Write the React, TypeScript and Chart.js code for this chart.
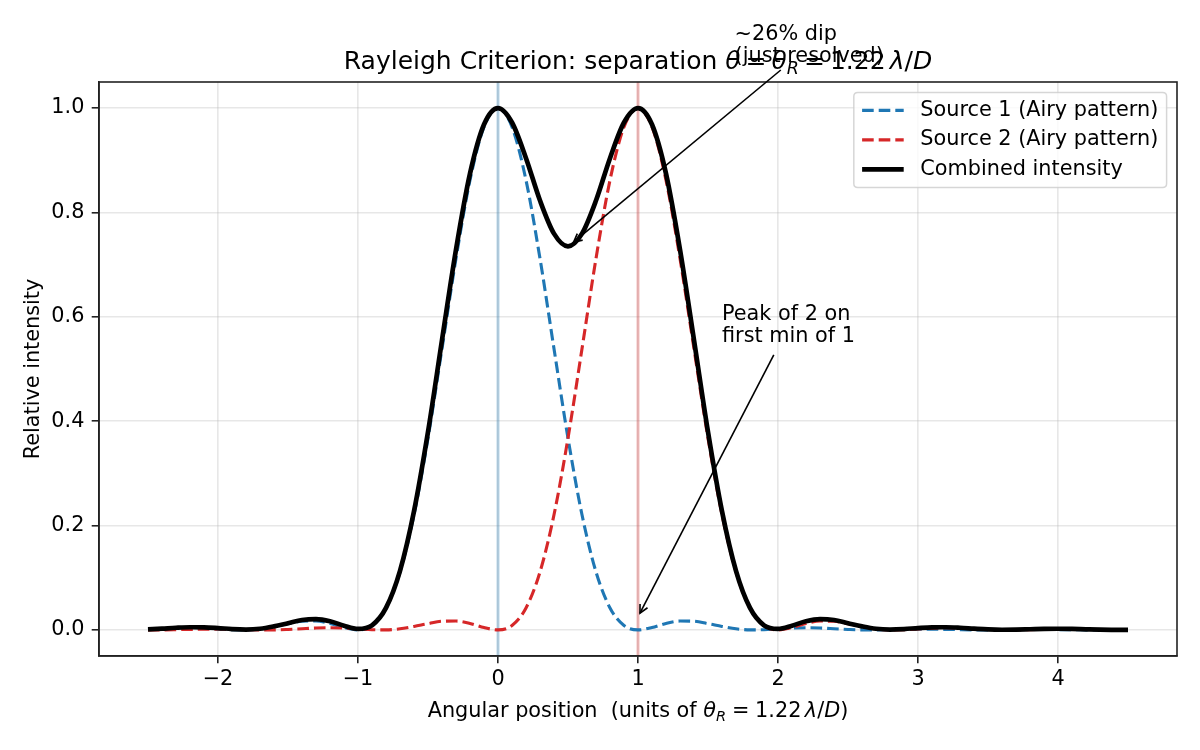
import React, { useEffect, useRef } from "react";
import { Chart, registerables } from "chart.js";

Chart.register(...registerables);

// ---------------- data ----------------
const xPositions = [
  -2.5, -2.4, -2.3, -2.2, -2.1, -2.0, -1.9, -1.8, -1.7, -1.6, -1.5, -1.4, -1.3, -1.2, -1.1, -1.0,
  -0.9, -0.8, -0.7, -0.6, -0.5, -0.4, -0.3, -0.2, -0.1, 0.0, 0.1, 0.2, 0.3, 0.4, 0.5, 0.6, 0.7,
  0.8, 0.9, 1.0, 1.1, 1.2, 1.3, 1.4, 1.5, 1.6, 1.7, 1.8, 1.9, 2.0, 2.1, 2.2, 2.3, 2.4, 2.5, 2.6,
  2.7, 2.8, 2.9, 3.0, 3.1, 3.2, 3.3, 3.4, 3.5, 3.6, 3.7, 3.8, 3.9, 4.0, 4.1, 4.2, 4.3, 4.4, 4.5,
];

const source1 = [
  0.0009, 0.0023, 0.0036, 0.0041, 0.0035, 0.002, 0.0004, 0.0001, 0.0021, 0.0067, 0.0119, 0.0166,
  0.017, 0.0125, 0.0046, 0.0, 0.0085, 0.0421, 0.1111, 0.2206, 0.3675, 0.5388, 0.7117, 0.8619,
  0.9639, 1.0, 0.9639, 0.8619, 0.7117, 0.5388, 0.3675, 0.2206, 0.1111, 0.0421, 0.0085, 0.0,
  0.0046, 0.0125, 0.017, 0.0166, 0.0119, 0.0067, 0.0021, 0.0001, 0.0004, 0.002, 0.0035, 0.0041,
  0.0036, 0.0023, 0.0009, 0.0001, 0.0001, 0.0006, 0.0012, 0.0016, 0.0015, 0.001, 0.0005, 0.0001,
  0.0, 0.0002, 0.0005, 0.0007, 0.0008, 0.0006, 0.0003, 0.0001, 0.0, 0.0001, 0.0002,
];

const source2 = [
  0.0, 0.0001, 0.0005, 0.001, 0.0015, 0.0016, 0.0012, 0.0006, 0.0001, 0.0001, 0.0009, 0.0023,
  0.0036, 0.0041, 0.0035, 0.002, 0.0004, 0.0001, 0.0021, 0.0067, 0.0119, 0.0166, 0.017, 0.0125,
  0.0046, 0.0, 0.0085, 0.0421, 0.1111, 0.2206, 0.3675, 0.5388, 0.7117, 0.8619, 0.9639, 1.0,
  0.9639, 0.8619, 0.7117, 0.5388, 0.3675, 0.2206, 0.1111, 0.0421, 0.0085, 0.0, 0.0046, 0.0125,
  0.017, 0.0166, 0.0119, 0.0067, 0.0021, 0.0001, 0.0004, 0.002, 0.0035, 0.0041, 0.0036, 0.0023,
  0.0009, 0.0001, 0.0001, 0.0006, 0.0012, 0.0016, 0.0015, 0.001, 0.0005, 0.0001, 0.0,
];

const combined = [
  0.0009, 0.0024, 0.0041, 0.0051, 0.005, 0.0036, 0.0016, 0.0007, 0.0022, 0.0068, 0.0128, 0.0189,
  0.0206, 0.0166, 0.0081, 0.002, 0.0089, 0.0422, 0.1132, 0.2273, 0.3794, 0.5554, 0.7287, 0.8744,
  0.9685, 1.0, 0.9724, 0.904, 0.8228, 0.7594, 0.735, 0.7594, 0.8228, 0.904, 0.9724, 1.0, 0.9685,
  0.8744, 0.7287, 0.5554, 0.3794, 0.2273, 0.1132, 0.0422, 0.0089, 0.002, 0.0081, 0.0166, 0.0206,
  0.0189, 0.0128, 0.0068, 0.0022, 0.0007, 0.0016, 0.0036, 0.005, 0.0051, 0.0041, 0.0024, 0.0009,
  0.0003, 0.0006, 0.0013, 0.002, 0.0022, 0.0018, 0.0011, 0.0005, 0.0002, 0.0002,
];

const seriesLabels = ["Source 1 (Airy pattern)", "Source 2 (Airy pattern)", "Combined intensity"];

const xTickValues = [-2, -1, 0, 1, 2, 3, 4];
const xTickLabels = ["\u22122", "\u22121", "0", "1", "2", "3", "4"];
const yTickValues = [0, 0.2, 0.4, 0.6, 0.8, 1.0];
const yTickLabels = ["0.0", "0.2", "0.4", "0.6", "0.8", "1.0"];

const referenceLines = [0, 1];

const annotationDip = ["~26% dip", "(just resolved)"];
const annotationPeak = ["Peak of 2 on", "first min of 1"];

// ---------------- styling ----------------
const FAMILY = "'DejaVu Sans', 'Liberation Sans', sans-serif";
const FS = 20.8;
const TITLE_FS = 25;

type Run = { t?: string; it?: boolean; sub?: boolean; gap?: number };

const titleRuns: Run[] = [
  { t: "Rayleigh Criterion: separation " },
  { t: "\u03b8", it: true },
  { gap: 0.2 },
  { t: "=" },
  { gap: 0.2 },
  { t: "\u03b8", it: true },
  { t: "R", it: true, sub: true },
  { gap: 0.2 },
  { t: "=" },
  { gap: 0.2 },
  { t: "1.22" },
  { gap: 0.167 },
  { t: "\u03bb", it: true },
  { t: "/" },
  { t: "D", it: true },
];

const xLabelRuns: Run[] = [
  { t: "Angular position  (units of " },
  { t: "\u03b8", it: true },
  { t: "R", it: true, sub: true },
  { gap: 0.278 },
  { t: "=" },
  { gap: 0.278 },
  { t: "1.22" },
  { gap: 0.167 },
  { t: "\u03bb", it: true },
  { t: "/" },
  { t: "D", it: true },
  { t: ")" },
];

function runFont(r: Run, size: number) {
  const s = r.sub ? size * 0.7 : size;
  return `${r.it ? "italic " : ""}${s}px ${FAMILY}`;
}

function drawRich(ctx: CanvasRenderingContext2D, runs: Run[], size: number, cx: number, baseline: number) {
  const widths = runs.map((r) => {
    if (r.gap) return r.gap * size;
    ctx.font = runFont(r, size);
    return ctx.measureText(r.t || "").width;
  });
  const total = widths.reduce((a, b) => a + b, 0);
  let x = cx - total / 2;
  ctx.textAlign = "left";
  ctx.textBaseline = "alphabetic";
  runs.forEach((r, i) => {
    if (!r.gap) {
      ctx.font = runFont(r, size);
      ctx.fillText(r.t || "", x, baseline + (r.sub ? 0.2 * size : 0));
    }
    x += widths[i];
  });
}

function drawArrow(ctx: CanvasRenderingContext2D, x0: number, y0: number, x1: number, y1: number) {
  const ang = Math.atan2(y1 - y0, x1 - x0);
  const hl = 8.3;
  const hw = 4.2;
  ctx.save();
  ctx.strokeStyle = "#000";
  ctx.lineWidth = 1.6;
  ctx.lineCap = "butt";
  ctx.beginPath();
  ctx.moveTo(x0, y0);
  ctx.lineTo(x1, y1);
  ctx.stroke();
  const bx = x1 - hl * Math.cos(ang);
  const by = y1 - hl * Math.sin(ang);
  const px = -Math.sin(ang) * hw;
  const py = Math.cos(ang) * hw;
  ctx.beginPath();
  ctx.moveTo(bx + px, by + py);
  ctx.lineTo(x1, y1);
  ctx.lineTo(bx - px, by - py);
  ctx.stroke();
  ctx.restore();
}

const decorPlugin = {
  id: "decor",
  beforeDatasetsDraw(chart: any) {
    const { ctx, chartArea, scales } = chart;
    const colors = ["rgba(31,119,180,0.3)", "rgba(214,39,40,0.3)"];
    ctx.save();
    referenceLines.forEach((v, i) => {
      const px = scales.x.getPixelForValue(v);
      ctx.strokeStyle = colors[i];
      ctx.lineWidth = 3;
      ctx.beginPath();
      ctx.moveTo(px, chartArea.top);
      ctx.lineTo(px, chartArea.bottom);
      ctx.stroke();
    });
    ctx.restore();
  },
  afterDraw(chart: any) {
    const { ctx, chartArea, scales } = chart;
    const { left, right, top, bottom } = chartArea;
    ctx.save();
    // frame
    ctx.strokeStyle = "#222";
    ctx.lineWidth = 1.6;
    ctx.strokeRect(left, top, right - left, bottom - top);

    ctx.fillStyle = "#000";
    // title
    drawRich(ctx, titleRuns, TITLE_FS, (left + right) / 2, top - 13);
    // x label
    drawRich(ctx, xLabelRuns, FS, (left + right) / 2, 717);
    // y label
    ctx.save();
    ctx.translate(38.5, (top + bottom) / 2);
    ctx.rotate(-Math.PI / 2);
    ctx.font = `${FS}px ${FAMILY}`;
    ctx.textAlign = "center";
    ctx.textBaseline = "alphabetic";
    ctx.fillText("Relative intensity", 0, 0);
    ctx.restore();

    // annotations
    const X = (v: number) => scales.x.getPixelForValue(v);
    const Y = (v: number) => scales.y.getPixelForValue(v);
    const lineGap = 22;
    ctx.font = `${FS}px ${FAMILY}`;
    ctx.textAlign = "left";
    ctx.textBaseline = "alphabetic";
    const drawLines = (lines: string[], xv: number, yv: number) => {
      const bx = X(xv);
      const by = Y(yv);
      lines.forEach((l, i) => {
        ctx.fillText(l, bx, by - (lines.length - 1 - i) * lineGap);
      });
    };
    drawLines(annotationDip, 1.69, 1.088);
    drawArrow(ctx, X(2.02), Y(1.073), X(0.54), Y(0.743));
    drawLines(annotationPeak, 1.6, 0.552);
    drawArrow(ctx, X(1.97), Y(0.527), X(1.014), Y(0.032));

    // legend
    ctx.font = `${FS}px ${FAMILY}`;
    const ds = chart.data.datasets;
    const maxW = Math.max(...ds.map((d: any) => ctx.measureText(d.label).width));
    const pad = 8.3;
    const handleLen = 41.6;
    const handlePad = 16.6;
    const boxW = pad + handleLen + handlePad + maxW + pad;
    const rowGap = 29.5;
    const boxH = 18 * 2 + rowGap * (ds.length - 1);
    const bxR = right - 10.4;
    const bx = bxR - boxW;
    const by = top + 10.4;
    const r = 4;
    ctx.beginPath();
    ctx.moveTo(bx + r, by);
    ctx.lineTo(bx + boxW - r, by);
    ctx.quadraticCurveTo(bx + boxW, by, bx + boxW, by + r);
    ctx.lineTo(bx + boxW, by + boxH - r);
    ctx.quadraticCurveTo(bx + boxW, by + boxH, bx + boxW - r, by + boxH);
    ctx.lineTo(bx + r, by + boxH);
    ctx.quadraticCurveTo(bx, by + boxH, bx, by + boxH - r);
    ctx.lineTo(bx, by + r);
    ctx.quadraticCurveTo(bx, by, bx + r, by);
    ctx.closePath();
    ctx.fillStyle = "rgba(255,255,255,0.8)";
    ctx.fill();
    ctx.strokeStyle = "rgba(204,204,204,0.8)";
    ctx.lineWidth = 1.5;
    ctx.stroke();

    ds.forEach((d: any, i: number) => {
      const cy = by + 18 + i * rowGap;
      const hx = bx + pad;
      ctx.save();
      ctx.strokeStyle = d.borderColor;
      ctx.lineWidth = d.borderWidth;
      ctx.setLineDash(d.borderDash || []);
      ctx.beginPath();
      ctx.moveTo(hx, cy);
      ctx.lineTo(hx + handleLen, cy);
      ctx.stroke();
      ctx.restore();
      ctx.fillStyle = "#000";
      ctx.font = `${FS}px ${FAMILY}`;
      ctx.textAlign = "left";
      ctx.textBaseline = "middle";
      ctx.fillText(d.label, hx + handleLen + handlePad, cy);
    });
    ctx.restore();
  },
};

export default function App() {
  const ref = useRef<HTMLCanvasElement>(null);
  useEffect(() => {
    const canvas = ref.current!;
    const mk = (vals: number[]) => xPositions.map((x, i) => ({ x, y: vals[i] }));
    const gridOpts = {
      color: "rgba(176,176,176,0.3)",
      lineWidth: 1.6,
      drawTicks: true,
      tickLength: 7.3,
      tickColor: "#222",
      tickWidth: 1.6,
    };
    const chart = new Chart(canvas, {
      type: "line",
      data: {
        datasets: [
          {
            label: seriesLabels[0],
            data: mk(source1),
            borderColor: "#1f77b4",
            borderWidth: 3.1,
            borderDash: [11.6, 5],
            pointRadius: 0,
            fill: false,
            order: 3,
            cubicInterpolationMode: "monotone",
          },
          {
            label: seriesLabels[1],
            data: mk(source2),
            borderColor: "#d62728",
            borderWidth: 3.1,
            borderDash: [11.6, 5],
            pointRadius: 0,
            fill: false,
            order: 2,
            cubicInterpolationMode: "monotone",
          },
          {
            label: seriesLabels[2],
            data: mk(combined),
            borderColor: "#000000",
            borderWidth: 4.7,
            pointRadius: 0,
            fill: false,
            order: 1,
            cubicInterpolationMode: "monotone",
          },
        ],
      },
      options: {
        responsive: false,
        animation: false,
        devicePixelRatio: 1,
        layout: { padding: { left: 0, top: 82, right: 23, bottom: 0 } },
        plugins: {
          legend: { display: false },
          title: { display: false },
          tooltip: { enabled: false },
        },
        scales: {
          x: {
            type: "linear",
            min: -2.85,
            max: 4.85,
            afterBuildTicks: (s: any) => {
              s.ticks = xTickValues.map((v) => ({ value: v }));
            },
            afterFit: (s: any) => {
              s.height = 94;
            },
            ticks: {
              callback: (_v: any, i: number) => xTickLabels[i],
              font: { family: FAMILY, size: FS },
              color: "#000",
              padding: 4,
              maxRotation: 0,
              autoSkip: false,
            },
            grid: gridOpts,
            border: { display: true, color: "#222", width: 1.6 },
          },
          y: {
            type: "linear",
            min: -0.05,
            max: 1.05,
            afterBuildTicks: (s: any) => {
              s.ticks = yTickValues.map((v) => ({ value: v }));
            },
            afterFit: (s: any) => {
              s.width = 99;
            },
            ticks: {
              callback: (_v: any, i: number) => yTickLabels[i],
              font: { family: FAMILY, size: FS },
              color: "#000",
              padding: 7.3,
              autoSkip: false,
            },
            grid: gridOpts,
            border: { display: true, color: "#222", width: 1.6 },
          },
        },
      },
      plugins: [decorPlugin],
    } as any);
    return () => chart.destroy();
  }, []);
  return (
    <div style={{ position: "absolute", left: 0, top: 0, width: 1200, height: 750, background: "#fff" }}>
      <canvas ref={ref} width={1200} height={750} style={{ display: "block" }} />
    </div>
  );
}
